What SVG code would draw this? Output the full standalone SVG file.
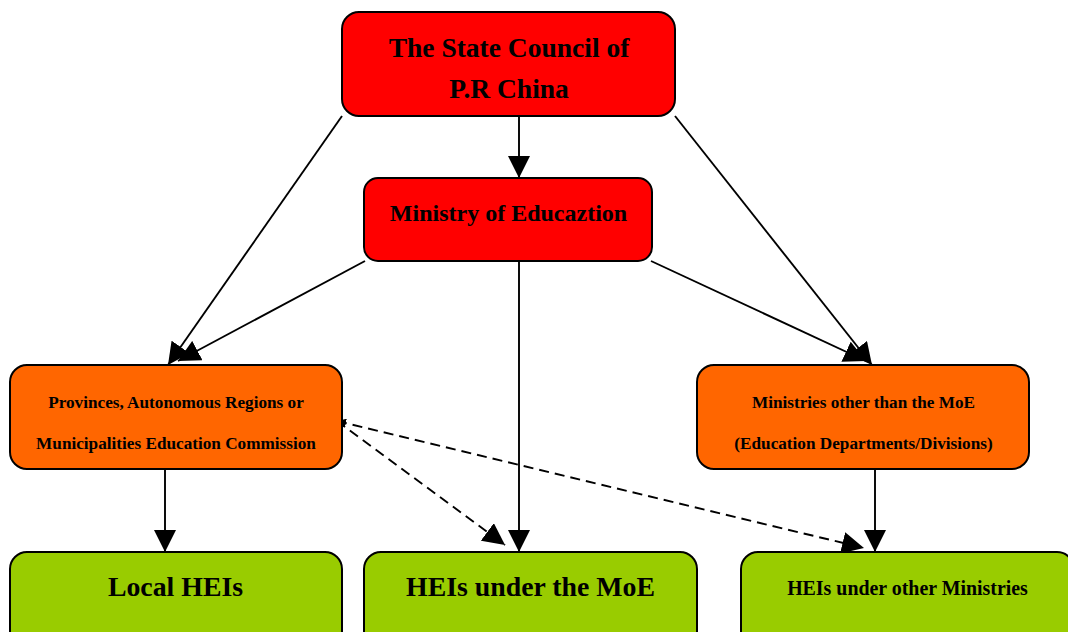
<svg xmlns="http://www.w3.org/2000/svg" width="1068" height="632" viewBox="0 0 1068 632">
<defs>
<style>
.box{stroke:#000;stroke-width:2}
.red{fill:#FF0000}
.orange{fill:#FF6600}
.green{fill:#99CC00}
text{font-family:"Liberation Serif","Times New Roman",serif;font-weight:bold;fill:#000;text-anchor:middle}
.ln{stroke:#000;stroke-width:1.9;fill:none}
.dash{stroke-dasharray:10 6}
</style>
<marker id="ah" markerUnits="userSpaceOnUse" markerWidth="22" markerHeight="22" viewBox="0 0 20 20" refX="20" refY="10" orient="auto">
<path d="M0,0 L20,10 L0,20 Z" fill="#000"/>
</marker>
<marker id="sh" markerUnits="userSpaceOnUse" markerWidth="9" markerHeight="9" viewBox="0 0 20 20" refX="0" refY="10" orient="auto">
<path d="M20,0 L0,10 L20,20 Z" fill="#000"/>
</marker>
</defs>
<g id="connectors">
<line class="ln" x1="519" y1="117" x2="519" y2="178" marker-end="url(#ah)"/>
<line class="ln" x1="342" y1="116" x2="168" y2="365" marker-end="url(#ah)"/>
<line class="ln" x1="675" y1="116" x2="872" y2="365" marker-end="url(#ah)"/>
<line class="ln" x1="365" y1="261" x2="178" y2="361" marker-end="url(#ah)"/>
<line class="ln" x1="651" y1="261" x2="866" y2="361" marker-end="url(#ah)"/>
<line class="ln" x1="519" y1="262" x2="519" y2="552" marker-end="url(#ah)"/>
<line class="ln" x1="165" y1="470" x2="165" y2="552" marker-end="url(#ah)"/>
<line class="ln" x1="875" y1="470" x2="875" y2="552" marker-end="url(#ah)"/>
<line class="ln dash" x1="337" y1="421" x2="505" y2="545" marker-start="url(#sh)" marker-end="url(#ah)"/>
<line class="ln dash" x1="337" y1="421" x2="864" y2="548" marker-start="url(#sh)" marker-end="url(#ah)"/>
</g>
<g id="state-council">
<rect class="box red" x="342" y="12" width="333" height="104" rx="17"/>
<text x="509" y="57" font-size="27.5">The State Council of</text>
<text x="509" y="98" font-size="27.5">P.R China</text>
</g>
<g id="ministry-of-education">
<rect class="box red" x="364" y="178" width="288" height="83" rx="14"/>
<text x="508.5" y="221" font-size="24">Ministry of Educaztion</text>
</g>
<g id="provinces">
<rect class="box orange" x="10" y="365" width="332" height="104" rx="17"/>
<text x="176" y="408" font-size="17.2">Provinces, Autonomous Regions or</text>
<text x="176" y="449" font-size="17.2">Municipalities Education Commission</text>
</g>
<g id="ministries-other">
<rect class="box orange" x="697" y="365" width="332" height="104" rx="17"/>
<text x="863.5" y="408" font-size="17.2">Ministries other than the MoE</text>
<text x="863.5" y="449" font-size="17.2">(Education Departments/Divisions)</text>
</g>
<g id="local-heis">
<rect class="box green" x="10" y="552" width="332" height="100" rx="17"/>
<text x="175.5" y="596" font-size="27.8">Local HEIs</text>
</g>
<g id="heis-moe">
<rect class="box green" x="364" y="552" width="333" height="100" rx="17"/>
<text x="530.5" y="596" font-size="27.8">HEIs under the MoE</text>
</g>
<g id="heis-other">
<rect class="box green" x="741" y="552" width="333" height="100" rx="17"/>
<text x="907.5" y="595" font-size="19.9">HEIs under other Ministries</text>
</g>
</svg>
